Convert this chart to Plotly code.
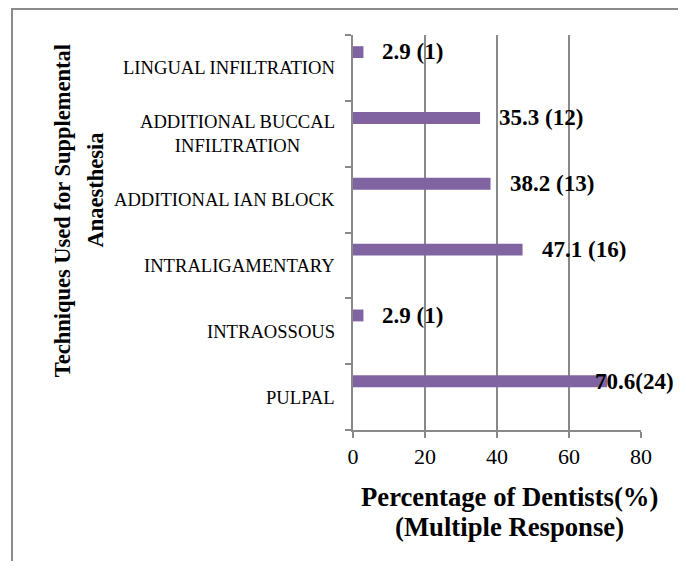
import plotly.graph_objects as go

# Data (bottom to top as drawn)
categories = ["PULPAL", "INTRAOSSOUS", "INTRALIGAMENTARY", "ADDITIONAL IAN BLOCK",
              "ADDITIONAL BUCCAL<br>INFILTRATION", "LINGUAL INFILTRATION"]
percentages = [70.6, 2.9, 47.1, 38.2, 35.3, 2.9]
counts = [24, 1, 16, 13, 12, 1]
value_labels = ["70.6(24)", "2.9 (1)", "47.1 (16)", "38.2 (13)", "35.3 (12)", "2.9 (1)"]
x_ticks = [0, 20, 40, 60, 80]

FONT = "Liberation Serif, Times New Roman, serif"
BAR = "#8064A2"
GRID = "#898989"

# per-label horizontal nudges (styling)
label_xshift = [-14, 17, 17, 17, 17, 17]

fig = go.Figure()
fig.add_trace(go.Bar(
    x=percentages, y=categories, orientation="h",
    marker=dict(color=BAR, line=dict(width=0)),
    width=0.18, offset=0.15, hoverinfo="x+y",
))

annotations = []
for cat, val, lab, dx in zip(categories, percentages, value_labels, label_xshift):
    annotations.append(dict(
        x=val, y=cat, xref="x", yref="y", text=lab, showarrow=False,
        xanchor="left", yanchor="middle", xshift=dx, yshift=16,
        font=dict(family=FONT, size=23, color="black", weight="bold"),
    ))
    annotations.append(dict(
        x=0, y=cat, xref="paper", yref="y", text=cat, showarrow=False,
        xanchor="right", yanchor="middle", align="center", xshift=-16,
        font=dict(family=FONT, size=18.6, color="black"),
    ))

# axis titles
annotations += [
    dict(x=-1.010, y=0.554, xref="paper", yref="paper", text="Techniques Used for Supplemental",
         textangle=-90, showarrow=False, xanchor="center", yanchor="middle",
         font=dict(family=FONT, size=22.5, color="black", weight="bold")),
    dict(x=-0.895, y=0.607, xref="paper", yref="paper", text="Anaesthesia",
         textangle=-90, showarrow=False, xanchor="center", yanchor="middle",
         font=dict(family=FONT, size=22.5, color="black", weight="bold")),
    dict(x=0.545, y=-0.170, xref="paper", yref="paper", text="Percentage of Dentists(%)",
         showarrow=False, xanchor="center", yanchor="middle",
         font=dict(family=FONT, size=26.7, color="black", weight="bold")),
    dict(x=0.545, y=-0.246, xref="paper", yref="paper", text="(Multiple Response)",
         showarrow=False, xanchor="center", yanchor="middle",
         font=dict(family=FONT, size=26.7, color="black", weight="bold")),
]

# page has an 8px body margin, so the figure is sized/margined to compensate
fig.update_layout(
    width=675, height=553,
    margin=dict(l=345, r=42, t=27, b=131),
    paper_bgcolor="white", plot_bgcolor="white",
    showlegend=False,
    annotations=annotations,
    shapes=[dict(type="rect", xref="paper", yref="paper",
                 x0=-1.184, x1=1.142, y0=-0.6, y1=1.066,
                 line=dict(color="#8c8c8c", width=2), fillcolor="rgba(0,0,0,0)", layer="below")],
)
fig.update_xaxes(
    range=[0, 80], tickvals=x_ticks, ticktext=[str(t) for t in x_ticks],
    showgrid=True, gridcolor=GRID, gridwidth=1.5,
    showline=True, linecolor=GRID, linewidth=1.5,
    ticks="outside", ticklen=6, tickcolor=GRID, tickwidth=1.5,
    tickfont=dict(family=FONT, size=22, color="black"),
    zeroline=False, fixedrange=True,
)
fig.update_yaxes(
    type="category", categoryorder="array", categoryarray=categories,
    range=[-0.5, 5.5], showticklabels=False,
    showgrid=False, showline=True, linecolor=GRID, linewidth=1.5,
    ticks="outside", tickson="boundaries", ticklen=6, tickcolor=GRID, tickwidth=1.5,
    fixedrange=True,
)

fig.write_html("out.html")
